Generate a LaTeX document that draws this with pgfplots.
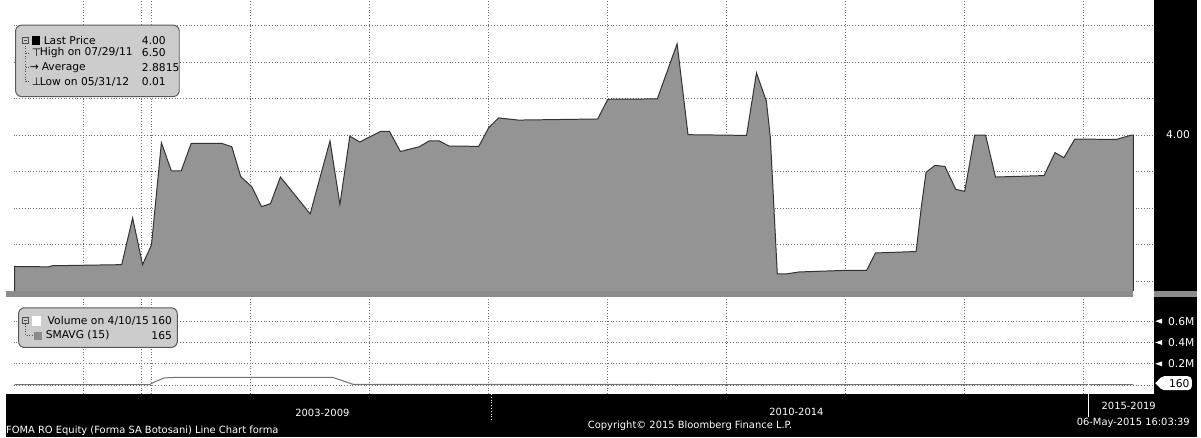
\documentclass[border=0pt]{standalone}
\usepackage{pgfplots}
\pgfplotsset{compat=1.18}
\usepackage{fontspec}
\setmainfont{DejaVu Sans}
\newcommand\lgf{\fontsize{5.4}{6}\selectfont}
\newcommand\btf{\fontsize{5}{6}\selectfont}
\definecolor{areafill}{gray}{0.58}
\definecolor{boxfill}{gray}{0.80}

\pgfplotsset{
  bbg/.style={
    scale only axis,
    anchor=north west,
    xmin=8, xmax=1158,
    axis line style={draw=none},
    major tick style={draw=none},
    xticklabels={}, yticklabels={},
    xtick={78,137,147,247,367,487,607,727,847,967,1087},
    grid=major,
    grid style={densely dotted, black!55, line width=0.35pt},
  }
}

\begin{document}
\begin{tikzpicture}
% page in reference pixels: 1 px = 0.5pt, y downwards
\begin{scope}[x=0.5pt,y=-0.5pt,yshift=220pt]
\useasboundingbox (0,0) rectangle (1201,440);
\fill[white] (0,0) rectangle (1201,440);
\end{scope}

% price panel (px 8..1158 x 0..293)
\begin{axis}[bbg, at={(4pt,220pt)}, width=575pt, height=146.5pt,
  ymin=-0.27, ymax=7.69, ytick={0,1,...,7}]
\addplot[fill=areafill, draw=black!80, line width=0.5pt] coordinates {
(9,-0.3) (9,0.40) (43,0.39) (47,0.42) (117,0.45) (128,1.73) (138,0.45)
(147,0.99) (157,3.79) (167,3.02) (177,3.02) (187,3.77) (218,3.77)
(228,3.68) (237,2.86) (248,2.59) (258,2.04) (267,2.12) (277,2.85)
(307,1.84) (327,3.84) (337,2.10) (347,3.97) (357,3.81) (370,3.99)
(378,4.10) (387,4.10) (398,3.55) (417,3.68) (427,3.84) (437,3.84)
(447,3.70) (477,3.69) (487,4.20) (497,4.47) (517,4.41) (597,4.44)
(607,4.98) (657,4.99) (677,6.50) (688,4.01) (747,3.99) (757,5.70)
(767,4.93) (771,3.93) (778,0.20) (788,0.20) (800,0.25) (843,0.29)
(868,0.29) (877,0.77) (918,0.81) (923,1.98) (928,2.98) (937,3.17)
(947,3.14) (958,2.51) (967,2.46) (977,4.00) (988,4.00) (998,2.85)
(1047,2.89) (1058,3.52) (1067,3.38) (1078,3.89) (1120,3.88)
(1135,4.00) (1137,4.00) (1137,-0.3)
};
\end{axis}

% volume panel (px 8..1158 x 299..397)
\begin{axis}[bbg, at={(4pt,70.5pt)}, width=575pt, height=49pt,
  ymin=-0.084, ymax=0.828, ytick={0,0.2,0.4,0.6}]
\addplot[black!55, line width=0.5pt] coordinates {
(9,0.004) (145,0.004) (150,0.03) (160,0.068) (170,0.072) (330,0.072)
(340,0.04) (350,0.008) (600,0.006) (900,0.005) (1137,0.005)
};
\end{axis}

\begin{scope}[x=0.5pt,y=-0.5pt,yshift=220pt]
% right panel, band and bottom bar
\fill[black] (1158,0) rectangle (1201,440);
\fill[black] (0,397) rectangle (1201,440);
\fill[black!45] (0,293) rectangle (1201,299);
\fill[white] (1137,293) rectangle (1158,299);

\node[white, font=\lgf, anchor=west] at (1163,135) {4.00};
\foreach \yy/\lab in {323.5/0.6M, 345/0.4M, 366.5/0.2M}{
  \fill[white] (1159,\yy) -- (1166,\yy-2.5) -- (1166,\yy+2.5) -- cycle;
  \node[white, font=\lgf, anchor=west] at (1165,\yy) {\lab};
}
\fill[white] (1159,386) -- (1165,380) -- (1165,392) -- cycle;
\fill[white, rounded corners=2pt] (1164,379) rectangle (1196,393);
\node[black, font=\lgf, anchor=west] at (1166,386) {160};

% bottom bar
\draw[white, densely dotted, line width=0.4pt] (490,397) -- (490,425);
\draw[white, line width=0.4pt] (1092,387) -- (1092,420);
\node[white, font=\btf, anchor=west] at (285,416) {2003-2009};
\node[white, font=\btf, anchor=west] at (763,415) {2010-2014};
\node[white, font=\btf, anchor=west] at (580,429) {Copyright© 2015 Bloomberg Finance L.P.};
\node[white, font=\btf, anchor=west] at (1098,409) {2015-2019};
\node[white, font=\btf, anchor=east] at (1201,426) {06-May-2015 16:03:39};
\node[white, font=\btf, anchor=base west, inner sep=0pt] at (0,437) {FOMA RO Equity (Forma SA Botosani) Line Chart forma};

% price legend
\filldraw[fill=boxfill, draw=black!65, line width=0.5pt, rounded corners=3pt] (10,25) rectangle (175,97);
\draw[black!70, line width=0.3pt] (17,37) rectangle (23,43);
\draw[black!70, line width=0.3pt] (18.5,40) -- (21.5,40);
\draw[black!70, densely dotted, line width=0.3pt] (20,43) -- (20,82) -- (24,82);
\draw[black!70, densely dotted, line width=0.3pt] (20,53) -- (24,53) (20,68) -- (24,68);
\fill[black] (27,36) rectangle (35,45);
\node[font=\lgf, anchor=west, inner sep=0pt] at (26,53) {⊤};
\node[font=\lgf, anchor=west, inner sep=0pt] at (24,68) {→};
\node[font=\lgf, anchor=west, inner sep=0pt] at (26,82) {⊥};
\node[font=\lgf, anchor=west, inner sep=0pt] at (38,40.5) {Last Price};
\node[font=\lgf, anchor=west, inner sep=0pt] at (34,53) {High on 07/29/11};
\node[font=\lgf, anchor=west, inner sep=0pt] at (36,68) {Average};
\node[font=\lgf, anchor=west, inner sep=0pt] at (34,82) {Low on 05/31/12};
\node[font=\lgf, anchor=west, inner sep=0pt] at (137,40.5) {4.00};
\node[font=\lgf, anchor=west, inner sep=0pt] at (137,53) {6.50};
\node[font=\lgf, anchor=west, inner sep=0pt] at (137,68) {2.8815};
\node[font=\lgf, anchor=west, inner sep=0pt] at (137,82) {0.01};

% volume legend
\filldraw[fill=boxfill, draw=black!65, line width=0.5pt, rounded corners=3pt] (13,310) rectangle (173,350);
\draw[black!70, line width=0.3pt] (17,320) rectangle (23,326);
\draw[black!70, line width=0.3pt] (18.5,323) -- (21.5,323);
\draw[black!70, densely dotted, line width=0.3pt] (20,326) -- (20,338) -- (27,338);
\fill[white] (27,318) rectangle (36,328);
\fill[black!45] (29,334) rectangle (37,342);
\node[font=\lgf, anchor=west, inner sep=0pt] at (42,323) {Volume on 4/10/15};
\node[font=\lgf, anchor=east, inner sep=0pt] at (168,323) {160};
\node[font=\lgf, anchor=west, inner sep=0pt] at (40,338) {SMAVG (15)};
\node[font=\lgf, anchor=east, inner sep=0pt] at (168,338) {165};
\end{scope}
\end{tikzpicture}
\end{document}
